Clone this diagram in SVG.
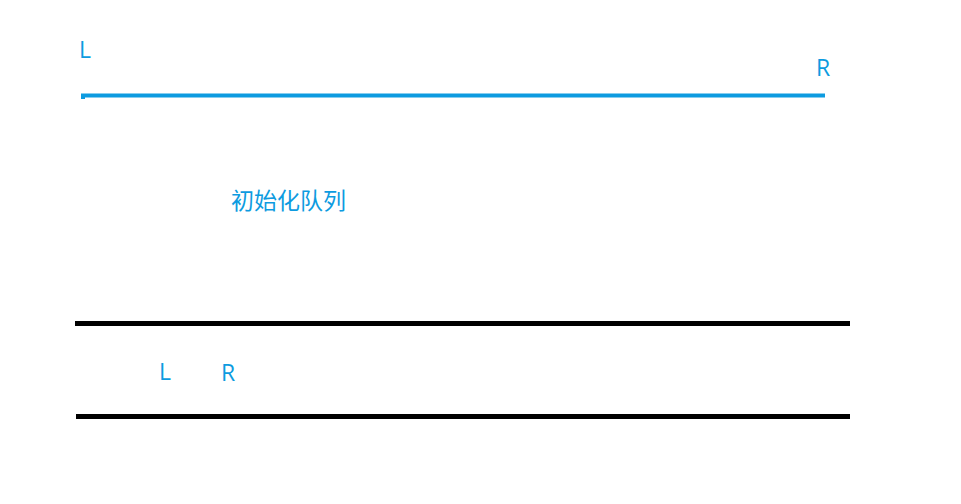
<svg xmlns="http://www.w3.org/2000/svg" width="961" height="504" viewBox="0 0 961 504">
<style>
.t{font-family:"Open Sans","Noto Sans CJK SC",sans-serif;font-size:23px;fill:#0d9be0}
.bl{stroke:#0d9be0;stroke-width:4;fill:none}
.bk{stroke:#000;stroke-width:5;fill:none}
</style>
<rect width="961" height="504" fill="#fff"/>
<g id="connectors">
<line class="bl" x1="81" y1="95.5" x2="825" y2="95.5"/>
<rect x="81" y="95" width="4" height="4" fill="#0d9be0"/>
<line class="bk" x1="75" y1="323.5" x2="850" y2="323.5"/>
<line class="bk" x1="76" y1="416.5" x2="850" y2="416.5"/>
</g>
<g id="labelL1"><text class="t" x="79" y="58">L</text></g>
<g id="labelR1"><text class="t" x="816" y="76">R</text></g>
<g id="title"><text class="t" x="231" y="209">初始化队列</text></g>
<g id="labelL2"><text class="t" x="159" y="380">L</text></g>
<g id="labelR2"><text class="t" x="221" y="381">R</text></g>
</svg>
